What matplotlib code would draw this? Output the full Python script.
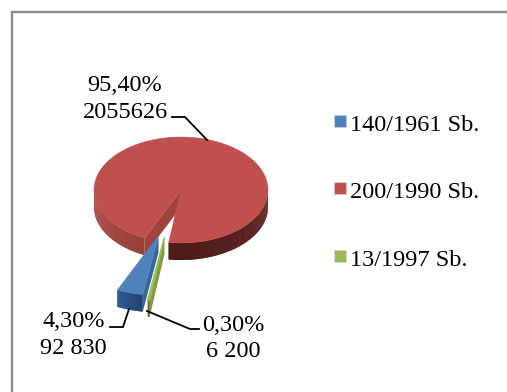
import numpy as np
import matplotlib
matplotlib.use("Agg")
import matplotlib.pyplot as plt
from matplotlib.colors import to_rgb
from matplotlib.patches import Polygon

plt.rcParams['font.family'] = ['Liberation Serif', 'DejaVu Serif']

# Data
laws = ["140/1961 Sb.", "200/1990 Sb.", "13/1997 Sb."]
counts = [92830, 2055626, 6200]
percent_labels = ["4,30%", "95,40%", "0,30%"]
count_labels = ["92 830", "2055626", "6 200"]

colors_top = ["#4F81BD", "#C0504D", "#9BBB59"]
colors_cut = ["#3A6698", "#A0423E", "#7E9A45"]
wall_left = ["#2F5F95", "#A84844", "#6F8A3E"]
wall_mid = ["#24497A", "#8E3A36", "#5F7836"]
wall_right = ["#1F3E66", "#5A2220", "#4F6628"]
top_edge_width = [0.3, 0.3, 1.1]

# Pie geometry, in pixels of the 507x392 figure
CX, CY = 181.0, 190.0
RX, RY = 87.0, 53.0
DEPTH = 17.0
FIRST_ANGLE = 189.2                     # clockwise from twelve o'clock
# per-slice offset of the apex and radius growth for the pulled-out slices
EXPLODE = [(-22.5, 45.5, 1.13), (0, 0, 1.0), (-16.5, 47.0, 1.2)]


def point(theta, radius, dx=0.0, dy=0.0):
    """Screen position of a clockwise clock angle on the tilted disc."""
    t = np.radians(theta)
    return np.column_stack((CX + dx + radius * RX * np.sin(t),
                            CY + dy - radius * RY * np.cos(t)))


def mix(c1, c2, f):
    a, b = to_rgb(c1), to_rgb(c2)
    return tuple(a[i] + (b[i] - a[i]) * f for i in range(3))


def wall_colour(idx, theta):
    """Outer wall shading: lit on the left, in shadow towards the right."""
    s = np.sin(np.radians(theta))
    if idx == 1:
        if s < -0.2:
            return mix(wall_left[1], wall_mid[1], (s + 1) / 0.8)
        return mix("#4E1B19", wall_right[1], max(s, 0))
    return mix(wall_right[idx], wall_left[idx], np.clip((-s - 0.1) / 0.35, 0, 1))


def draw_slice(ax, start, sweep, idx, dx, dy, radius, z):
    angles = np.linspace(start, start + sweep, max(int(sweep * 2), 8))
    rim = point(angles, radius, dx, dy)
    apex = np.array([[CX + dx, CY + dy]])
    down = np.array([0, DEPTH])

    # cut face on the slice's starting edge, the only one turned to the viewer
    edge = rim[0]
    quad = np.vstack((apex, [edge], [edge + down], apex + down))
    ax.add_patch(Polygon(quad, closed=True, fc=colors_cut[idx], ec="none", zorder=z))

    # outer wall, only where the rim faces the viewer; each strip overlaps the
    # next one so no seams show between them
    step = angles[1] - angles[0]
    for a0 in angles[:-1]:
        if np.cos(np.radians(a0 + step / 2)) > 0.0:
            continue
        a1 = min(a0 + 2 * step, start + sweep)
        p = point(np.linspace(a0, a1, 4), radius, dx, dy)
        ax.add_patch(Polygon(np.vstack((p, p[::-1] + down)), closed=True,
                             fc=wall_colour(idx, a0 + step / 2), ec="none", zorder=z + 0.1))

    # top face
    ax.add_patch(Polygon(np.vstack((apex, rim)), closed=True, fc=colors_top[idx],
                         ec=colors_top[idx], lw=top_edge_width[idx], zorder=z + 0.2))


fig = plt.figure(figsize=(5.07, 3.92), dpi=100)
ax = fig.add_axes([0, 0, 1, 1])
ax.set_xlim(0, 507)
ax.set_ylim(392, 0)
ax.axis("off")

# Chart frame, running off the right and bottom of the canvas
ax.plot([11.5, 11.5, 507], [392, 11.5, 11.5], color="#8C8C8C", lw=1.7,
        solid_joinstyle="miter", zorder=1)

# Slices, sweep taken from the counts
total = sum(counts)
sweeps = [c / total * 360 for c in counts]
starts = [FIRST_ANGLE, FIRST_ANGLE + sweeps[0], FIRST_ANGLE + sweeps[0] + sweeps[1]]
for i, z in zip((1, 2, 0), (2, 3, 4)):
    dx, dy, r = EXPLODE[i]
    draw_slice(ax, starts[i], sweeps[i], i, dx, dy, r, z)

# Leader lines
leader_kw = dict(color="black", lw=1.3, zorder=6, solid_joinstyle="miter")
ax.plot([172, 185, 207], [117, 117, 140], **leader_kw)
ax.plot([110, 123, 129], [327, 327, 309], **leader_kw)
ax.plot([147, 190, 199], [311, 329, 329], **leader_kw)

# Data labels
label_kw = dict(fontsize=17.5, color="black", ha="center", va="baseline", zorder=7)
ax.text(125, 91, percent_labels[1], **label_kw)
ax.text(125, 118, count_labels[1], **label_kw)
ax.text(74, 327, percent_labels[0], **label_kw)
ax.text(73, 354, count_labels[0], **label_kw)
ax.text(233, 331, percent_labels[2], **label_kw)
ax.text(233, 357, count_labels[2], **label_kw)

# Legend
legend_y = [131, 198, 266]
for name, col, y in zip(laws, colors_top, legend_y):
    ax.add_patch(plt.Rectangle((333.5, y - 16), 12, 12, fc=col, ec="#D8D8D8", lw=0.4, zorder=5))
    ax.text(350, y, name, fontsize=17.5, color="black", ha="left", va="baseline")

fig.savefig("out.png", dpi=100, facecolor="white")
